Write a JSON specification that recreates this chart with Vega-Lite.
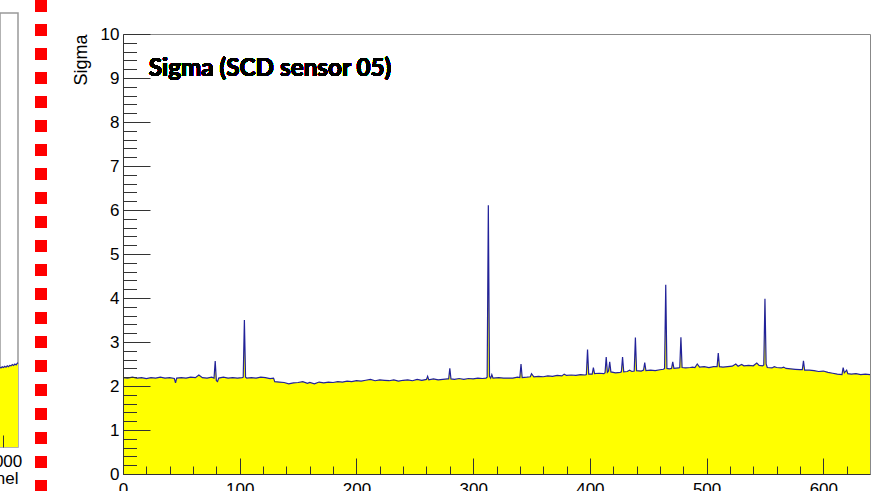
{
  "$schema": "https://vega.github.io/schema/vega-lite/v6.json",
  "autosize": {"type": "none"},
  "padding": {"left": 0, "top": 0, "right": 871, "bottom": 491},
  "background": "white",
  "config": {"font": "Liberation Sans", "view": {"stroke": null}},
  "datasets": {
    "main": [
      {"ch":0,"v":2.19},{"ch":4,"v":2.18},{"ch":8,"v":2.2},{"ch":12,"v":2.18},{"ch":16,"v":2.19},{"ch":20,"v":2.17},{"ch":24,"v":2.19},{"ch":28,"v":2.18},{"ch":32,"v":2.2},{"ch":36,"v":2.18},{"ch":40,"v":2.19},{"ch":44,"v":2.17},{"ch":45,"v":2.07},{"ch":46,"v":2.18},{"ch":50,"v":2.19},{"ch":54,"v":2.18},{"ch":58,"v":2.2},{"ch":62,"v":2.19},{"ch":65,"v":2.25},{"ch":68,"v":2.19},{"ch":72,"v":2.18},{"ch":76,"v":2.2},{"ch":78,"v":2.18},{"ch":79,"v":2.57},{"ch":80,"v":2.12},{"ch":81,"v":2.1},{"ch":82,"v":2.18},{"ch":86,"v":2.2},{"ch":90,"v":2.18},{"ch":94,"v":2.19},{"ch":98,"v":2.18},{"ch":102,"v":2.19},{"ch":103,"v":2.2},{"ch":104,"v":3.5},{"ch":105,"v":2.2},{"ch":106,"v":2.18},{"ch":110,"v":2.19},{"ch":114,"v":2.18},{"ch":118,"v":2.2},{"ch":122,"v":2.19},{"ch":126,"v":2.17},{"ch":129,"v":2.18},{"ch":130,"v":2.1},{"ch":134,"v":2.09},{"ch":138,"v":2.08},{"ch":142,"v":2.05},{"ch":146,"v":2.07},{"ch":150,"v":2.08},{"ch":154,"v":2.1},{"ch":158,"v":2.06},{"ch":160,"v":2.08},{"ch":164,"v":2.05},{"ch":168,"v":2.09},{"ch":172,"v":2.07},{"ch":176,"v":2.09},{"ch":180,"v":2.08},{"ch":184,"v":2.1},{"ch":188,"v":2.09},{"ch":192,"v":2.11},{"ch":196,"v":2.1},{"ch":200,"v":2.12},{"ch":204,"v":2.11},{"ch":208,"v":2.13},{"ch":212,"v":2.15},{"ch":216,"v":2.12},{"ch":220,"v":2.14},{"ch":224,"v":2.13},{"ch":228,"v":2.12},{"ch":232,"v":2.14},{"ch":236,"v":2.11},{"ch":240,"v":2.13},{"ch":244,"v":2.14},{"ch":248,"v":2.12},{"ch":252,"v":2.15},{"ch":256,"v":2.13},{"ch":260,"v":2.15},{"ch":261,"v":2.22},{"ch":262,"v":2.14},{"ch":266,"v":2.16},{"ch":270,"v":2.14},{"ch":274,"v":2.15},{"ch":278,"v":2.16},{"ch":279,"v":2.16},{"ch":280,"v":2.4},{"ch":281,"v":2.16},{"ch":284,"v":2.15},{"ch":288,"v":2.17},{"ch":292,"v":2.15},{"ch":296,"v":2.17},{"ch":300,"v":2.16},{"ch":304,"v":2.18},{"ch":308,"v":2.17},{"ch":311,"v":2.18},{"ch":312,"v":2.2},{"ch":313,"v":6.11},{"ch":314,"v":2.22},{"ch":315,"v":2.18},{"ch":316,"v":2.26},{"ch":317,"v":2.18},{"ch":322,"v":2.19},{"ch":326,"v":2.18},{"ch":330,"v":2.18},{"ch":334,"v":2.18},{"ch":338,"v":2.2},{"ch":340,"v":2.19},{"ch":341,"v":2.5},{"ch":342,"v":2.19},{"ch":346,"v":2.2},{"ch":349,"v":2.21},{"ch":350,"v":2.28},{"ch":352,"v":2.21},{"ch":356,"v":2.22},{"ch":360,"v":2.21},{"ch":364,"v":2.23},{"ch":368,"v":2.22},{"ch":372,"v":2.24},{"ch":376,"v":2.23},{"ch":378,"v":2.27},{"ch":380,"v":2.24},{"ch":384,"v":2.25},{"ch":388,"v":2.24},{"ch":392,"v":2.26},{"ch":396,"v":2.25},{"ch":397,"v":2.26},{"ch":398,"v":2.83},{"ch":399,"v":2.27},{"ch":402,"v":2.27},{"ch":403,"v":2.42},{"ch":404,"v":2.28},{"ch":408,"v":2.29},{"ch":412,"v":2.28},{"ch":413,"v":2.3},{"ch":414,"v":2.66},{"ch":415,"v":2.31},{"ch":416,"v":2.34},{"ch":417,"v":2.55},{"ch":418,"v":2.32},{"ch":422,"v":2.3},{"ch":426,"v":2.31},{"ch":427,"v":2.32},{"ch":428,"v":2.66},{"ch":429,"v":2.32},{"ch":432,"v":2.33},{"ch":434,"v":2.36},{"ch":436,"v":2.33},{"ch":438,"v":2.34},{"ch":439,"v":3.1},{"ch":440,"v":2.35},{"ch":444,"v":2.34},{"ch":446,"v":2.36},{"ch":447,"v":2.53},{"ch":448,"v":2.35},{"ch":452,"v":2.36},{"ch":456,"v":2.35},{"ch":460,"v":2.37},{"ch":463,"v":2.38},{"ch":464,"v":2.4},{"ch":465,"v":4.3},{"ch":466,"v":2.4},{"ch":468,"v":2.39},{"ch":470,"v":2.4},{"ch":471,"v":2.55},{"ch":472,"v":2.4},{"ch":476,"v":2.41},{"ch":477,"v":2.42},{"ch":478,"v":3.11},{"ch":479,"v":2.42},{"ch":482,"v":2.41},{"ch":486,"v":2.42},{"ch":488,"v":2.43},{"ch":490,"v":2.42},{"ch":492,"v":2.5},{"ch":494,"v":2.43},{"ch":498,"v":2.44},{"ch":502,"v":2.42},{"ch":506,"v":2.44},{"ch":509,"v":2.44},{"ch":510,"v":2.75},{"ch":511,"v":2.44},{"ch":514,"v":2.43},{"ch":518,"v":2.44},{"ch":522,"v":2.45},{"ch":525,"v":2.5},{"ch":527,"v":2.45},{"ch":530,"v":2.49},{"ch":532,"v":2.46},{"ch":536,"v":2.47},{"ch":540,"v":2.46},{"ch":543,"v":2.52},{"ch":545,"v":2.47},{"ch":548,"v":2.46},{"ch":549,"v":2.48},{"ch":550,"v":3.98},{"ch":551,"v":2.5},{"ch":552,"v":2.42},{"ch":556,"v":2.41},{"ch":558,"v":2.44},{"ch":560,"v":2.42},{"ch":564,"v":2.41},{"ch":566,"v":2.43},{"ch":568,"v":2.4},{"ch":572,"v":2.39},{"ch":576,"v":2.38},{"ch":580,"v":2.37},{"ch":582,"v":2.37},{"ch":583,"v":2.57},{"ch":584,"v":2.36},{"ch":588,"v":2.36},{"ch":592,"v":2.35},{"ch":596,"v":2.33},{"ch":600,"v":2.34},{"ch":604,"v":2.31},{"ch":608,"v":2.29},{"ch":612,"v":2.27},{"ch":616,"v":2.26},{"ch":617,"v":2.42},{"ch":618,"v":2.3},{"ch":620,"v":2.36},{"ch":621,"v":2.28},{"ch":624,"v":2.27},{"ch":628,"v":2.28},{"ch":632,"v":2.26},{"ch":636,"v":2.27},{"ch":640,"v":2.26}
    ],
    "left": [
      {"ch":995.5,"v":1.84},{"ch":997,"v":1.82},{"ch":999,"v":1.85},{"ch":1001,"v":1.83},{"ch":1003,"v":1.86},{"ch":1005,"v":1.84},{"ch":1007,"v":1.87},{"ch":1009,"v":1.85},{"ch":1011,"v":1.88},{"ch":1013,"v":1.87},{"ch":1015,"v":1.9},{"ch":1017,"v":1.88},{"ch":1019,"v":1.91},{"ch":1021,"v":1.89},{"ch":1023,"v":1.93},{"ch":1024,"v":1.94}
    ],
    "sep": [{"s": 0}],
    "none": []
  },
  "spacing": 12,
  "align": "each",
  "hconcat": [
    {
      "spacing": 11,
      "align": "each",
      "vconcat": [
        {"width": 18, "height": 1, "data": {"name": "none"}, "mark": "point", "view": {"stroke": null}},
        {
          "width": 18,
          "height": 434,
          "data": {"name": "left"},
          "view": {"stroke": "#999999", "strokeWidth": 1.5},
          "resolve": {"axis": {"x": "independent", "y": "independent"}},
          "layer": [
            {
              "mark": {"type": "area", "color": "#ffff00"},
              "encoding": {
                "x": {"field": "ch", "type": "quantitative", "scale": {"domain": [995.5, 1024], "nice": false, "zero": false},
                  "axis": {"orient": "bottom", "values": [1000], "format": "d", "tickSize": -12, "tickColor": "#333", "domain": false, "grid": false, "labelFlush": false, "labelOverlap": false, "labelPadding": 18, "labelFontSize": 17, "labelColor": "#000", "title": "Channel", "titleFontSize": 17, "titleFontWeight": "normal", "titleColor": "#000", "titleAnchor": "end", "titlePadding": 1, "zindex": 1}},
                "y": {"field": "v", "type": "quantitative", "scale": {"domain": [0, 10], "nice": false}, "axis": null}
              }
            },
            {
              "mark": {"type": "line", "color": "#22229a", "strokeWidth": 1.2},
              "encoding": {
                "x": {"field": "ch", "type": "quantitative", "axis": null},
                "y": {"field": "v", "type": "quantitative", "axis": null}
              }
            }
          ]
        }
      ]
    },
    {
      "spacing": 0,
      "align": "each",
      "vconcat": [
        {
          "width": 12,
          "height": 491,
          "data": {"name": "sep"},
          "view": {"stroke": null},
          "mark": {"type": "rule", "color": "#ff0000", "strokeWidth": 12, "strokeDash": [12, 12]},
          "encoding": {"x": {"field": "s", "type": "quantitative", "scale": {"domain": [-1, 1]}, "axis": null}}
        },
        {"width": 24, "height": 1, "data": {"name": "none"}, "mark": "point", "view": {"stroke": null}}
      ]
    },
    {
      "spacing": 23,
      "align": "each",
      "vconcat": [
        {"width": 747, "height": 1, "data": {"name": "none"}, "mark": "point", "view": {"stroke": null}},
        {
          "width": 747,
          "height": 440,
          "data": {"name": "main"},
          "view": {"stroke": "#888888", "strokeWidth": 1},
          "resolve": {"axis": {"x": "independent", "y": "independent"}},
          "layer": [
            {
              "mark": {"type": "area", "color": "#ffff00"},
              "encoding": {
                "x": {"field": "ch", "type": "quantitative", "scale": {"domain": [0, 640], "nice": false, "zero": false},
                  "axis": {"orient": "bottom", "values": [0, 100, 200, 300, 400, 500, 600], "tickSize": -16, "tickColor": "#333", "domainColor": "#333", "grid": false, "labelFlush": false, "labelOverlap": false, "labelPadding": 23, "labelFontSize": 17, "labelColor": "#000", "title": null, "zindex": 1}},
                "y": {"field": "v", "type": "quantitative", "scale": {"domain": [0, 10], "nice": false},
                  "axis": {"orient": "left", "values": [0, 1, 2, 3, 4, 5, 6, 7, 8, 9, 10], "tickSize": -27, "tickColor": "#333", "domainColor": "#333", "grid": false, "labelFlush": false, "labelOverlap": false, "labelPadding": 31, "labelFontSize": 17, "labelColor": "#000", "title": "Sigma", "titleFontSize": 18, "titleFontWeight": "normal", "titleColor": "#000", "titleAnchor": "end", "titlePadding": 10, "zindex": 1}}
              }
            },
            {
              "mark": {"type": "line", "color": "#22229a", "strokeWidth": 1.2},
              "encoding": {
                "x": {"field": "ch", "type": "quantitative",
                  "axis": {"orient": "bottom", "values": [20, 40, 60, 80, 120, 140, 160, 180, 220, 240, 260, 280, 320, 340, 360, 380, 420, 440, 460, 480, 520, 540, 560, 580, 620], "tickSize": -8, "tickColor": "#333", "labels": false, "domain": false, "grid": false, "title": null, "zindex": 1}},
                "y": {"field": "v", "type": "quantitative",
                  "axis": {"orient": "left", "values": [0.2, 0.4, 0.6, 0.8, 1.2, 1.4, 1.6, 1.8, 2.2, 2.4, 2.6, 2.8, 3.2, 3.4, 3.6, 3.8, 4.2, 4.4, 4.6, 4.8, 5.2, 5.4, 5.6, 5.8, 6.2, 6.4, 6.6, 6.8, 7.2, 7.4, 7.6, 7.8, 8.2, 8.4, 8.6, 8.8, 9.2, 9.4, 9.6, 9.8], "tickSize": -13.5, "tickColor": "#333", "labels": false, "domain": false, "grid": false, "title": null, "zindex": 1}}
              }
            },
            {
              "mark": {"type": "text", "text": "Sigma (SCD sensor 05)", "font": "Lato", "fontWeight": "bold", "fontSize": 24.3, "align": "left", "baseline": "alphabetic", "color": "#000"},
              "encoding": {
                "x": {"datum": 22, "type": "quantitative", "axis": null},
                "y": {"datum": 9.05, "type": "quantitative", "axis": null}
              }
            }
          ]
        }
      ]
    }
  ]
}
